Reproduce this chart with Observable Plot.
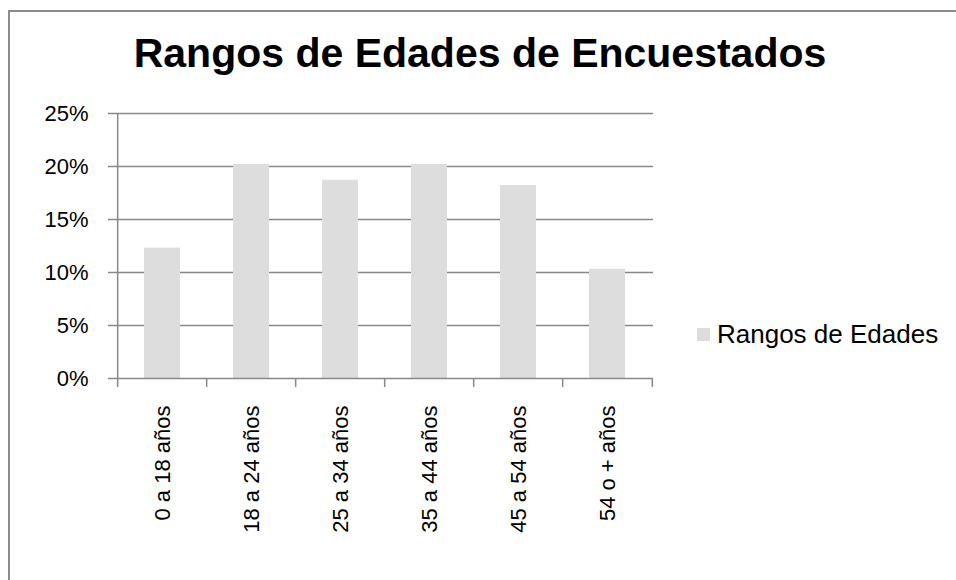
<!DOCTYPE html>
<html>
<head>
<meta charset="utf-8">
<script src="https://cdn.jsdelivr.net/npm/d3@7"></script>
<script src="https://cdn.jsdelivr.net/npm/@observablehq/plot@0.6"></script>
<style>
  html, body { margin: 0; padding: 0; background: #fff; overflow: hidden; }
  #wrap { position: relative; width: 956px; height: 580px; font-family: "Liberation Sans", Arial, sans-serif; color: #000; }
  #border { position: absolute; left: 8px; top: 10px; width: 1100px; height: 1000px; border-left: 2px solid #8c8c8c; border-top: 2px solid #8c8c8c; box-sizing: border-box; pointer-events: none; }
  #title { position: absolute; left: 480px; top: 33px; transform: translateX(-50%); white-space: nowrap; font-size: 41px; line-height: 1; font-weight: bold; }
  #legend { position: absolute; left: 697px; top: 321px; white-space: nowrap; font-size: 26px; line-height: 1; }
  #legend .sw { position: absolute; left: 0; top: 7px; width: 13px; height: 13px; background: #dddddd; }
  #legend .lb { position: absolute; left: 20px; top: 0; }
  #chart { position: absolute; left: 0; top: 0; }
</style>
</head>
<body>
<div id="wrap">
  <div id="chart"></div>
  <div id="border"></div>
  <div id="title"></div>
  <div id="legend"><div class="sw"></div><div class="lb"></div></div>
</div>
<script>
const titleText = "Rangos de Edades de Encuestados";
const seriesName = "Rangos de Edades";
const categories = ["0 a 18 años", "18 a 24 años", "25 a 34 años", "35 a 44 años", "45 a 54 años", "54 o + años"];
const values = [12.3, 20.2, 18.7, 20.2, 18.2, 10.3];
const yTicks = [0, 5, 10, 15, 20, 25];

document.getElementById("title").textContent = titleText;
document.querySelector("#legend .lb").textContent = seriesName;

const data = categories.map((c, i) => ({cat: c, val: values[i]}));

const W = 956, H = 580;
const mL = 115, mR = 303, mT = 113, mB = 202;
const step = (W - mL - mR) / categories.length;
const gray = "#888888";

const chart = Plot.plot({
  width: W,
  height: H,
  marginLeft: mL,
  marginRight: mR,
  marginTop: mT,
  marginBottom: mB,
  style: {fontFamily: "'Liberation Sans', Arial, sans-serif", color: "#000", background: "transparent", overflow: "visible"},
  x: {type: "band", domain: categories, paddingInner: 0.6, paddingOuter: 0.3, label: null},
  y: {domain: [0, 25], label: null},
  marks: [
    Plot.ruleY(yTicks.slice(1), {stroke: gray, strokeWidth: 1.5}),
    Plot.barY(data, {x: "cat", y: "val", fill: "#dddddd"}),
    Plot.ruleY([0], {stroke: gray, strokeWidth: 1.5}),
    Plot.ruleX([categories[0]], {x: d => d, dx: -step / 2, y1: 25, y2: 0, insetBottom: -9, stroke: gray, strokeWidth: 1.5}),
    Plot.ruleX(categories.slice(1), {x: d => d, dx: -step / 2, y1: 0, y2: 0, insetBottom: -9, stroke: gray, strokeWidth: 1.5}),
    Plot.ruleX([categories[categories.length - 1]], {x: d => d, dx: step / 2, y1: 0, y2: 0, insetBottom: -9, stroke: gray, strokeWidth: 1.5}),
    Plot.axisY({ticks: yTicks, tickFormat: d => d + "%", tickSize: 7, tickPadding: 20, fontSize: 22, stroke: gray, strokeWidth: 1.5, fill: "#000", label: null}),
    Plot.axisX({tickSize: 0, tickPadding: 27, tickRotate: -90, fontSize: 22, fill: "#000", label: null})
  ]
});
document.getElementById("chart").appendChild(chart);
</script>
</body>
</html>
